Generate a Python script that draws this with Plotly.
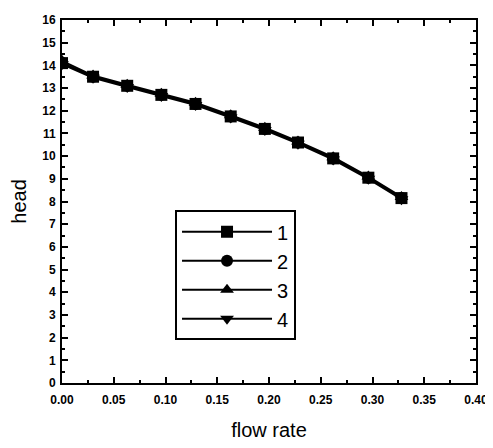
import plotly.graph_objects as go

flow_rate = [0.0, 0.030, 0.063, 0.096, 0.129, 0.163, 0.196, 0.228, 0.262, 0.296, 0.328]
head_1 = [14.1, 13.5, 13.1, 12.7, 12.3, 11.75, 11.2, 10.6, 9.9, 9.05, 8.15]
head_2 = [14.1, 13.5, 13.1, 12.7, 12.3, 11.75, 11.2, 10.6, 9.9, 9.05, 8.15]
head_3 = [14.2, 13.55, 13.15, 12.75, 12.35, 11.8, 11.25, 10.65, 9.95, 9.1, 8.2]
head_4 = [14.05, 13.45, 13.05, 12.65, 12.25, 11.7, 11.15, 10.55, 9.85, 9.0, 8.1]
series_names = ["1", "2", "3", "4"]
symbols = ["square", "circle", "triangle-up", "triangle-down"]

fig = go.Figure()
for name, ys, sym in zip(series_names, [head_1, head_2, head_3, head_4], symbols):
    fig.add_trace(go.Scatter(
        x=flow_rate, y=ys, name=name, mode="lines+markers",
        line=dict(color="black", width=2),
        marker=dict(symbol=sym, size=12, color="black"),
    ))

axis_common = dict(
    showline=True, linecolor="black", linewidth=2, mirror="allticks",
    ticks="inside", ticklen=6, tickwidth=2, tickcolor="black",
    showgrid=False, zeroline=False,
    tickfont=dict(family="Liberation Sans", size=12, color="black", weight="bold"),
)

fig.update_layout(
    width=485, height=440,
    margin=dict(l=50, r=14, t=5, b=65),
    paper_bgcolor="white", plot_bgcolor="white",
    xaxis=dict(range=[0, 0.40], tickvals=[0, 0.05, 0.10, 0.15, 0.20, 0.25, 0.30, 0.35, 0.40],
               ticktext=["0.00", "0.05", "0.10", "0.15", "0.20", "0.25", "0.30", "0.35", "0.40"],
               ticklabelstandoff=5,
               minor=dict(dtick=0.025, ticks="inside", ticklen=3, tickwidth=1.5, tickcolor="black"),
               title=dict(text="flow rate", font=dict(family="Liberation Sans", size=20, color="black"), standoff=17),
               **axis_common),
    yaxis=dict(range=[0, 16], dtick=1, ticklabelstandoff=2,
               minor=dict(dtick=0.5, ticks="inside", ticklen=3, tickwidth=1.5, tickcolor="black"),
               title=dict(text="head", font=dict(family="Liberation Sans", size=20, color="black"), standoff=15),
               **axis_common),
    legend=dict(x=0.273, y=0.476, xanchor="left", yanchor="top",
                bordercolor="black", borderwidth=2, bgcolor="white",
                font=dict(family="Liberation Sans", size=20, color="black"),
                itemwidth=90, tracegroupgap=0),
    showlegend=True,
)

fig.write_html("out.html")
